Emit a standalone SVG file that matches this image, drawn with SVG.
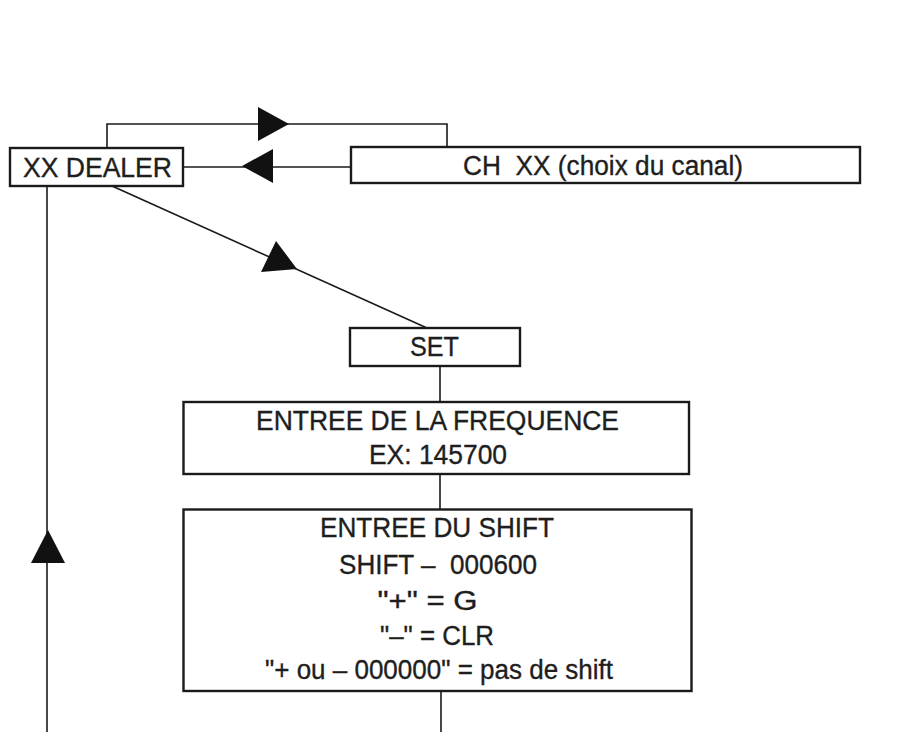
<svg xmlns="http://www.w3.org/2000/svg" width="924" height="732" viewBox="0 0 924 732">
<style>
.box{fill:#fff;stroke:#1a1a1a;stroke-width:2.4}
.ln{fill:none;stroke:#1a1a1a;stroke-width:1.6}
.ah{fill:#111;stroke:none}
text{font-family:"Liberation Sans",Arial,sans-serif;font-size:27px;fill:#1e1e1e;stroke:#1e1e1e;stroke-width:0.35;text-anchor:middle}
</style>
<rect width="924" height="732" fill="#fff"/>
<g id="connectors">
<polyline class="ln" points="107,148 107,124 447,124 447,147"/>
<polygon class="ah" points="289,124 258,107 258,141"/>
<line class="ln" x1="183" y1="167" x2="351" y2="167"/>
<polygon class="ah" points="242,166 273,149 273,183"/>
<line class="ln" x1="112" y1="186" x2="427" y2="328"/>
<polygon class="ah" points="297,269 276,241 261,272"/>
<line class="ln" x1="47" y1="186" x2="47" y2="732"/>
<polygon class="ah" points="48,530 31,563 65,563"/>
<line class="ln" x1="440" y1="366" x2="440" y2="402"/>
<line class="ln" x1="440" y1="474" x2="440" y2="509"/>
<line class="ln" x1="441" y1="691" x2="441" y2="732"/>
</g>
<g id="dealer">
<rect class="box" x="10" y="148" width="173" height="38"/>
<text x="97.5" y="177" font-size="28" textLength="149" lengthAdjust="spacingAndGlyphs">XX DEALER</text>
</g>
<g id="canal">
<rect class="box" x="351" y="147" width="509" height="36"/>
<text x="603" y="175" font-size="25" textLength="280" lengthAdjust="spacingAndGlyphs">CH&#160; XX (choix du canal)</text>
</g>
<g id="set">
<rect class="box" x="350" y="328" width="170" height="38"/>
<text x="434.5" y="356" textLength="49" lengthAdjust="spacingAndGlyphs">SET</text>
</g>
<g id="frequence">
<rect class="box" x="183.5" y="402" width="505.5" height="72"/>
<text x="437.5" y="430" textLength="363" lengthAdjust="spacingAndGlyphs">ENTREE DE LA FREQUENCE</text>
<text x="438" y="464" textLength="138" lengthAdjust="spacingAndGlyphs">EX: 145700</text>
</g>
<g id="shift">
<rect class="box" x="183.5" y="509.5" width="508" height="181.5"/>
<text x="437" y="536.5" textLength="234" lengthAdjust="spacingAndGlyphs">ENTREE DU SHIFT</text>
<text x="438" y="573.5" textLength="198" lengthAdjust="spacingAndGlyphs">SHIFT –&#160; 000600</text>
<text x="427.5" y="610" font-size="28" textLength="100" lengthAdjust="spacingAndGlyphs">"+" = G</text>
<text x="437" y="645" textLength="114" lengthAdjust="spacingAndGlyphs">"–" = CLR</text>
<text x="439" y="679" textLength="348" lengthAdjust="spacingAndGlyphs">"+ ou – 000000" = pas de shift</text>
</g>
</svg>
